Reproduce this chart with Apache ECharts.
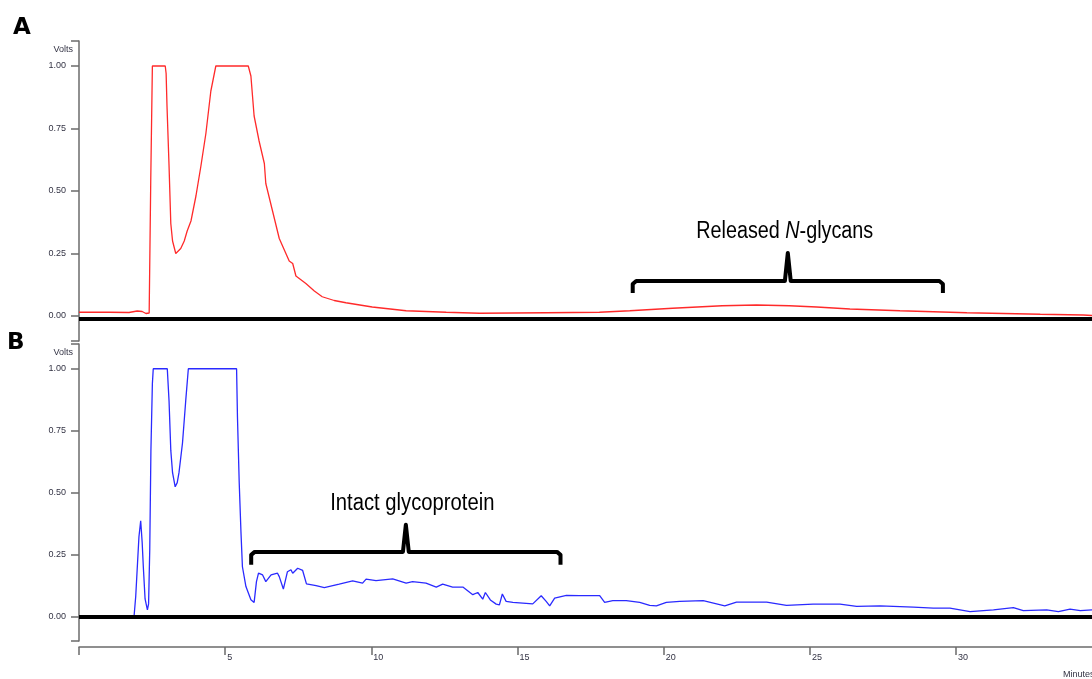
<!DOCTYPE html>
<html>
<head>
<meta charset="utf-8">
<title>Chromatograms A / B</title>
<script src="https://cdn.jsdelivr.net/npm/echarts@6/dist/echarts.min.js"></script>
<style>
    html, body { margin: 0; padding: 0; background: #ffffff; }
    #chart { width: 1092px; height: 679px; }
</style>
</head>
<body>
<div id="chart"></div>
<script>
// panel A (red trace): time in minutes, signal in volts
var aTime = [0, 1.03, 1.71, 1.99, 2.16, 2.29, 2.40, 2.43, 2.455, 2.51, 2.95, 2.98, 3.01, 3.08, 3.14, 3.20, 3.31, 3.36, 3.48, 3.60, 3.70, 3.73, 3.83, 4.00, 4.17, 4.34, 4.51, 4.68, 5.79, 5.88, 5.99, 6.16, 6.34, 6.39, 6.62, 6.85, 7.02, 7.19, 7.31, 7.42, 7.76, 8.05, 8.32, 8.73, 9.13, 10.03, 11.19, 12.56, 13.7, 15.98, 17.8, 18.84, 20.3, 22.0, 23.17, 24.3, 25.23, 26.37, 28.08, 30.37, 32.88, 34.35, 34.65];
var aVolts = [0.015, 0.015, 0.014, 0.02, 0.018, 0.01, 0.012, 0.02, 0.55, 1.0, 1.0, 0.97, 0.84, 0.6, 0.37, 0.30, 0.25, 0.25, 0.27, 0.30, 0.34, 0.34, 0.38, 0.48, 0.60, 0.73, 0.90, 1.0, 1.0, 0.96, 0.80, 0.70, 0.61, 0.53, 0.42, 0.31, 0.265, 0.22, 0.21, 0.16, 0.13, 0.10, 0.077, 0.062, 0.053, 0.036, 0.021, 0.015, 0.011, 0.013, 0.015, 0.021, 0.031, 0.041, 0.044, 0.041, 0.036, 0.028, 0.021, 0.013, 0.007, 0.004, 0.002];

// panel B (blue trace)
var bTime = [0, 1.0, 1.88, 1.94, 2.05, 2.11, 2.16, 2.20, 2.26, 2.34, 2.38, 2.42, 2.46, 2.51, 2.54, 3.02, 3.08, 3.14, 3.20, 3.29, 3.36, 3.42, 3.54, 3.65, 3.74, 5.39, 5.42, 5.48, 5.54, 5.59, 5.71, 5.88, 5.99, 6.07, 6.14, 6.28, 6.39, 6.57, 6.79, 6.85, 6.99, 7.13, 7.25, 7.31, 7.48, 7.65, 7.78, 8.11, 8.39, 8.9, 9.36, 9.70, 9.82, 10.16, 10.73, 11.19, 11.41, 11.87, 12.22, 12.44, 12.78, 13.13, 13.47, 13.64, 13.81, 13.9, 14.07, 14.27, 14.38, 14.48, 14.61, 14.84, 15.52, 15.81, 15.98, 16.1, 16.27, 16.67, 17.12, 17.81, 17.98, 18.26, 18.72, 19.18, 19.52, 19.75, 20.09, 20.55, 21.35, 22.09, 22.49, 23.52, 24.2, 25.11, 26.03, 26.6, 27.4, 28.54, 29.22, 29.79, 30.48, 31.28, 31.96, 32.3, 33.1, 33.5, 33.9, 34.25, 34.65];
var bVolts = [-0.005, -0.005, -0.005, 0.08, 0.32, 0.386, 0.30, 0.2, 0.07, 0.026, 0.05, 0.27, 0.67, 0.94, 1.0, 1.0, 0.87, 0.67, 0.58, 0.523, 0.54, 0.58, 0.70, 0.87, 1.0, 1.0, 0.806, 0.54, 0.34, 0.20, 0.12, 0.067, 0.056, 0.14, 0.174, 0.167, 0.14, 0.167, 0.174, 0.16, 0.11, 0.18, 0.188, 0.174, 0.194, 0.185, 0.131, 0.124, 0.116, 0.13, 0.143, 0.134, 0.15, 0.144, 0.151, 0.134, 0.14, 0.134, 0.118, 0.13, 0.118, 0.118, 0.087, 0.096, 0.069, 0.096, 0.066, 0.049, 0.046, 0.09, 0.06, 0.056, 0.05, 0.083, 0.06, 0.042, 0.073, 0.084, 0.083, 0.083, 0.056, 0.063, 0.063, 0.056, 0.044, 0.042, 0.056, 0.06, 0.063, 0.042, 0.057, 0.057, 0.044, 0.049, 0.049, 0.04, 0.042, 0.037, 0.033, 0.033, 0.019, 0.026, 0.035, 0.023, 0.026, 0.019, 0.029, 0.023, 0.026];

// ticks
var xLabelTicks = [5, 10, 15, 20, 25, 30];
var xTicks = [0, 5, 10, 15, 20, 25, 30];
var yLabelTicks = [0, 0.25, 0.5, 0.75, 1.0];
var yTicks = [-0.1, 0, 0.25, 0.5, 0.75, 1.0, 1.1];

// bracket annotations: [start, end, height of bar]
var glycanSpan = [18.94, 29.55, 0.14];
var proteinSpan = [5.89, 16.47, 0.26];
// annotation text anchors [minutes, volts]
var glycanNote = [24.14, 0.336];
var proteinNote = [11.4, 0.454];

function zip(t, v) {
    return t.map(function (x, i) { return [x, v[i]]; });
}

// bracket: legs down, bar across, pointed nub in the middle
function bracket(span, legDrop, nubRise) {
    var x0 = span[0], x1 = span[1], y = span[2];
    var xc = (x0 + x1) / 2;
    return [
        [x0, y - legDrop], [x0, y - 0.012], [x0 + 0.12, y],
        [xc - 0.1, y], [xc, y + nubRise], [xc + 0.1, y],
        [x1 - 0.12, y], [x1, y - 0.012], [x1, y - legDrop]
    ];
}

var axisGrey = '#6b6b6b';
var labelFont = 'Liberation Sans, Arial, sans-serif';
var noteFont = 'Liberation Sans, Arial, sans-serif';

function yAxisFor(idx) {
    return {
        type: 'value',
        gridIndex: idx,
        min: -0.1,
        max: 1.1,
        name: 'Volts',
        nameLocation: 'end',
        nameGap: -9,
        nameTextStyle: {
            color: '#333344', fontSize: 9, fontFamily: labelFont,
            align: 'right', verticalAlign: 'middle', padding: [0, 6, 0, 0]
        },
        splitLine: { show: false },
        axisLine: { show: true, lineStyle: { color: axisGrey, width: 1.5 } },
        axisTick: {
            show: true, inside: false, length: 8,
            customValues: yTicks,
            lineStyle: { color: axisGrey, width: 1.5 }
        },
        axisLabel: {
            customValues: yLabelTicks,
            margin: 13,
            color: '#333344',
            fontSize: 9,
            fontFamily: labelFont,
            formatter: function (v) { return v.toFixed(2); }
        }
    };
}

function baseline(y) {
    return {
        silent: true,
        symbol: ['none', 'none'],
        label: { show: false },
        lineStyle: { color: '#000', width: 4, type: 'solid' },
        data: [{ yAxis: y }]
    };
}

var staticGraphics = [
    { id: 'lblA', type: 'text', left: 13, top: 17, style: { text: 'A', fontSize: 23, fontWeight: 'bold', fontFamily: 'DejaVu Sans', fill: '#000' } },
    { id: 'lblB', type: 'text', left: 7, top: 332, style: { text: 'B', fontSize: 23, fontWeight: 'bold', fontFamily: 'DejaVu Sans', fill: '#000' } },
    { id: 'minutes', type: 'text', left: 1063, top: 670, style: { text: 'Minutes', fontSize: 9, fontFamily: labelFont, fill: '#333344' } }
];

var option = {
    backgroundColor: '#ffffff',
    animation: false,
    grid: [
        { left: 79, right: 0, top: 41, height: 300 },
        { left: 79, right: 0, top: 344, height: 297 }
    ],
    xAxis: [
        { type: 'value', gridIndex: 0, min: 0, max: 34.65, show: false },
        {
            type: 'value', gridIndex: 1, min: 0, max: 34.65, interval: 5,
            offset: 6,
            splitLine: { show: false },
            axisLine: { show: true, onZero: false, lineStyle: { color: axisGrey, width: 1.5 } },
            axisTick: {
                show: true, length: 8, customValues: xTicks,
                lineStyle: { color: axisGrey, width: 1.5 }
            },
            axisLabel: {
                customValues: xLabelTicks,
                align: 'left',
                margin: 6,
                padding: [0, 0, 0, 2],
                color: '#333344',
                fontSize: 9,
                fontFamily: labelFont
            }
        }
    ],
    yAxis: [yAxisFor(0), yAxisFor(1)],
    graphic: staticGraphics,
    series: [
        {
            name: 'A', type: 'line', xAxisIndex: 0, yAxisIndex: 0,
            showSymbol: false, data: zip(aTime, aVolts),
            lineStyle: { color: '#ff2a2a', width: 1.3 },
            markLine: baseline(-0.008)
        },
        {
            name: 'B', type: 'line', xAxisIndex: 1, yAxisIndex: 1,
            showSymbol: false, data: zip(bTime, bVolts),
            lineStyle: { color: '#2a2aff', width: 1.3 },
            markLine: baseline(0.004)
        },
        {
            type: 'line', xAxisIndex: 0, yAxisIndex: 0, showSymbol: false, silent: true,
            data: bracket(glycanSpan, 0.048, 0.112),
            lineStyle: { color: '#000', width: 4, join: 'round' }
        },
        {
            type: 'line', xAxisIndex: 1, yAxisIndex: 1, showSymbol: false, silent: true,
            data: bracket(proteinSpan, 0.052, 0.11),
            lineStyle: { color: '#000', width: 4, join: 'round' }
        }
    ]
};

var myChart = echarts.init(document.getElementById('chart'));
myChart.setOption(option);

// condensed annotation text, placed from data coordinates
var pA = myChart.convertToPixel({ gridIndex: 0 }, glycanNote);
var pB = myChart.convertToPixel({ gridIndex: 1 }, proteinNote);
myChart.setOption({
    graphic: staticGraphics.concat([
        {
            id: 'noteA', type: 'text', x: pA[0], y: pA[1], scaleX: 0.86,
            style: {
                text: '{a|Released }{i|N}{a|-glycans}',
                align: 'center', verticalAlign: 'middle',
                rich: {
                    a: { fontSize: 23, fontFamily: noteFont, fill: '#000' },
                    i: { fontSize: 23, fontFamily: noteFont, fontStyle: 'italic', fill: '#000' }
                }
            }
        },
        {
            id: 'noteB', type: 'text', x: pB[0], y: pB[1], scaleX: 0.88,
            style: {
                text: 'Intact glycoprotein',
                align: 'center', verticalAlign: 'middle',
                fontSize: 23, fontFamily: noteFont, fill: '#000'
            }
        }
    ])
});
</script>
</body>
</html>
